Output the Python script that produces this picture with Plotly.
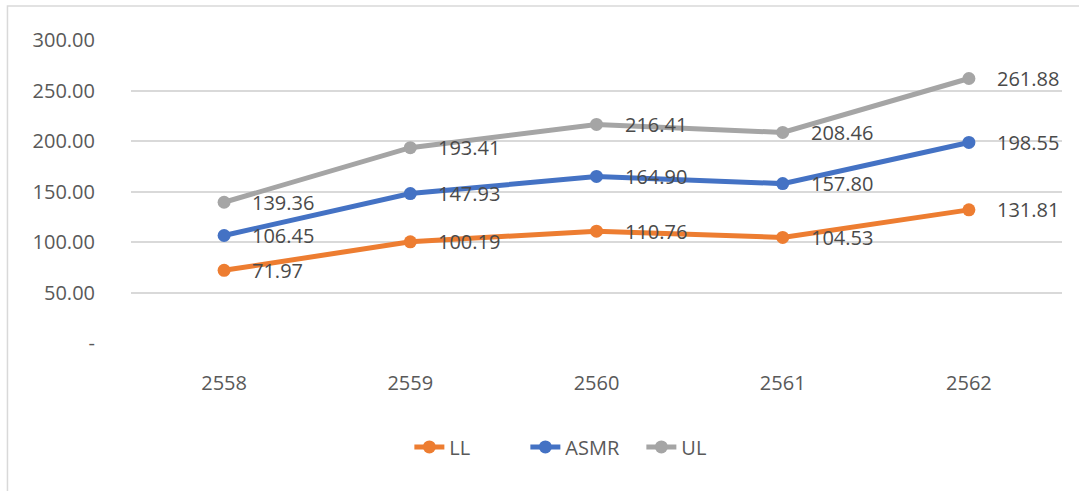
import plotly.graph_objects as go

years = ["2558", "2559", "2560", "2561", "2562"]
ll = [71.97, 100.19, 110.76, 104.53, 131.81]
asmr = [106.45, 147.93, 164.90, 157.80, 198.55]
ul = [139.36, 193.41, 216.41, 208.46, 261.88]
series_names = ["LL", "ASMR", "UL"]
series_colors = ["#ED7D31", "#4472C4", "#A5A5A5"]
y_tickvals = [0, 50, 100, 150, 200, 250, 300]
y_ticktext = ["-", "50.00", "100.00", "150.00", "200.00", "250.00", "300.00"]

FONT = "Open Sans, DejaVu Sans, sans-serif"

fig = go.Figure()
annotations = []
for name, vals, col in zip(series_names, [ll, asmr, ul], series_colors):
    fig.add_trace(go.Scatter(
        x=years, y=vals, name=name, mode="lines+markers",
        line=dict(color=col, width=5),
        marker=dict(color=col, size=13),
    ))
    for i, yv in enumerate(vals):
        annotations.append(dict(
            x=i, y=yv, xref="x", yref="y", text=f"{yv:.2f}",
            showarrow=False, xanchor="left", yanchor="middle", xshift=26,
            font=dict(family=FONT, size=20, color="#4a4a4a"),
        ))

fig.update_layout(
    width=1079, height=491,
    margin=dict(l=131, r=17, t=39.5, b=148),
    paper_bgcolor="white", plot_bgcolor="white",
    font=dict(family=FONT, size=20, color="#595959"),
    annotations=annotations,
    showlegend=True,
    legend=dict(orientation="h", x=0.299, xanchor="left", y=-0.343, yanchor="middle",
                entrywidth=71, entrywidthmode="pixels",
                font=dict(family=FONT, size=20, color="#595959"),
                bgcolor="rgba(0,0,0,0)"),
    shapes=[dict(type="rect", xref="paper", yref="paper",
                 x0=-0.1327, x1=1.2, y0=-0.6, y1=1.112,
                 line=dict(color="#D9D9D9", width=1.5), fillcolor="rgba(0,0,0,0)",
                 layer="below")],
)
fig.update_xaxes(type="category", range=[-0.5, 4.5], showgrid=False, zeroline=False,
                 showline=False, ticks="", ticklabelstandoff=26,
                 tickfont=dict(family=FONT, size=20, color="#595959"))
fig.update_yaxes(range=[0, 300], tickvals=y_tickvals, ticktext=y_ticktext,
                 showgrid=True, gridcolor="#D9D9D9", gridwidth=1.5, zeroline=False,
                 showline=False, ticks="", ticklabelstandoff=35,
                 tickfont=dict(family=FONT, size=20, color="#595959"))

fig.write_html("out.html")
